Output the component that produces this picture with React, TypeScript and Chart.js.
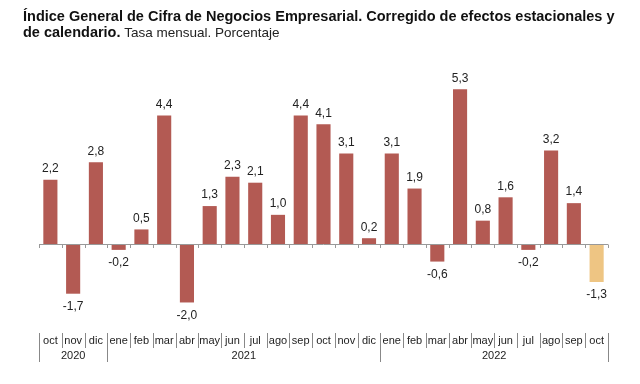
import React, { useEffect, useRef } from "react";
import { Chart, registerables } from "chart.js";

Chart.register(...registerables);

const months = ["oct","nov","dic","ene","feb","mar","abr","may","jun","jul","ago","sep","oct","nov","dic","ene","feb","mar","abr","may","jun","jul","ago","sep","oct"];
const values = [2.2,-1.7,2.8,-0.2,0.5,4.4,-2.0,1.3,2.3,2.1,1.0,4.4,4.1,3.1,0.2,3.1,1.9,-0.6,5.3,0.8,1.6,-0.2,3.2,1.4,-1.3];
const years = ["2020","2021","2022"];
const yearStarts = [0, 3, 15, 25];
const titleBold1 = "Índice General de Cifra de Negocios Empresarial. Corregido de efectos estacionales y";
const titleBold2 = "de calendario.";
const titleNormal2 = " Tasa mensual. Porcentaje";

const barColor = "#B35A53";
const lastColor = "#EEC583";
const FONT = "'Liberation Sans', Arial, sans-serif";

const overlay = {
  id: "overlay",
  afterDraw(chart: any) {
    const ctx = chart.ctx;
    const x = chart.scales.x;
    const y = chart.scales.y;
    const area = chart.chartArea;
    const n = months.length;
    const step = (area.right - area.left) / n;
    const bound = (i: number) => area.left + step * i;
    const y0 = y.getPixelForValue(0);
    ctx.save();
    // title
    ctx.fillStyle = "#111";
    ctx.textBaseline = "alphabetic";
    ctx.textAlign = "left";
    ctx.font = `bold 14.5px ${FONT}`;
    ctx.fillText(titleBold1, 23, 21);
    ctx.fillText(titleBold2, 23, 37);
    const w = ctx.measureText(titleBold2).width;
    ctx.font = `13.5px ${FONT}`;
    ctx.fillStyle = "#222";
    ctx.fillText(titleNormal2, 23 + w, 37);

    // zero line
    ctx.strokeStyle = "#999";
    ctx.lineWidth = 1;
    ctx.beginPath();
    ctx.moveTo(area.left, Math.round(y0) + 0.5);
    ctx.lineTo(area.right, Math.round(y0) + 0.5);
    for (let i = 0; i <= n; i++) {
      const bx = Math.round(bound(i)) + 0.5;
      ctx.moveTo(bx, Math.round(y0) + 0.5);
      ctx.lineTo(bx, Math.round(y0) + 4);
    }
    ctx.stroke();

    // data labels
    ctx.fillStyle = "#222";
    ctx.font = `12px ${FONT}`;
    ctx.textAlign = "center";
    ctx.textBaseline = "middle";
    const meta = chart.getDatasetMeta(0);
    values.forEach((v, i) => {
      const el = meta.data[i];
      const txt = v.toFixed(1).replace(".", ",");
      const py = y.getPixelForValue(v);
      ctx.fillText(txt, el.x, v >= 0 ? py - 11 : py + 13);
    });

    // bottom axis
    ctx.strokeStyle = "#888";
    ctx.beginPath();
    for (let i = 0; i <= n; i++) {
      const bx = Math.round(bound(i)) + 0.5;
      const isYear = yearStarts.includes(i);
      ctx.moveTo(bx, 333);
      ctx.lineTo(bx, isYear ? 362 : 348);
    }
    ctx.stroke();
    ctx.fillStyle = "#222";
    ctx.font = `11px ${FONT}`;
    months.forEach((m, i) => {
      ctx.fillText(m, x.getPixelForValue(i), 341);
    });
    years.forEach((yr, k) => {
      const cx = (bound(yearStarts[k]) + bound(yearStarts[k + 1])) / 2;
      ctx.fillText(yr, cx, 356);
    });
    ctx.restore();
  },
};

export default function App() {
  const ref = useRef<HTMLCanvasElement>(null);
  useEffect(() => {
    const chart = new Chart(ref.current!, {
      type: "bar",
      data: {
        labels: months,
        datasets: [
          {
            data: values,
            backgroundColor: values.map((_, i) => (i === values.length - 1 ? lastColor : barColor)),
            barPercentage: 0.62,
            categoryPercentage: 1,
          },
        ],
      },
      options: {
        animation: false,
        responsive: false,
        maintainAspectRatio: false,
        layout: { padding: { left: 39, right: 32, top: 60, bottom: 64 } },
        plugins: { legend: { display: false }, tooltip: { enabled: false }, title: { display: false } },
        scales: {
          x: { display: false, grid: { display: false } },
          y: { display: false, min: -2.6, max: 6.3, grid: { display: false } },
        },
      },
      plugins: [overlay],
    });
    return () => chart.destroy();
  }, []);
  return (
    <div style={{ position: "absolute", left: 0, top: 0, width: 640, height: 384, background: "#fff" }}>
      <canvas ref={ref} width={640} height={384} style={{ width: 640, height: 384 }} />
    </div>
  );
}
